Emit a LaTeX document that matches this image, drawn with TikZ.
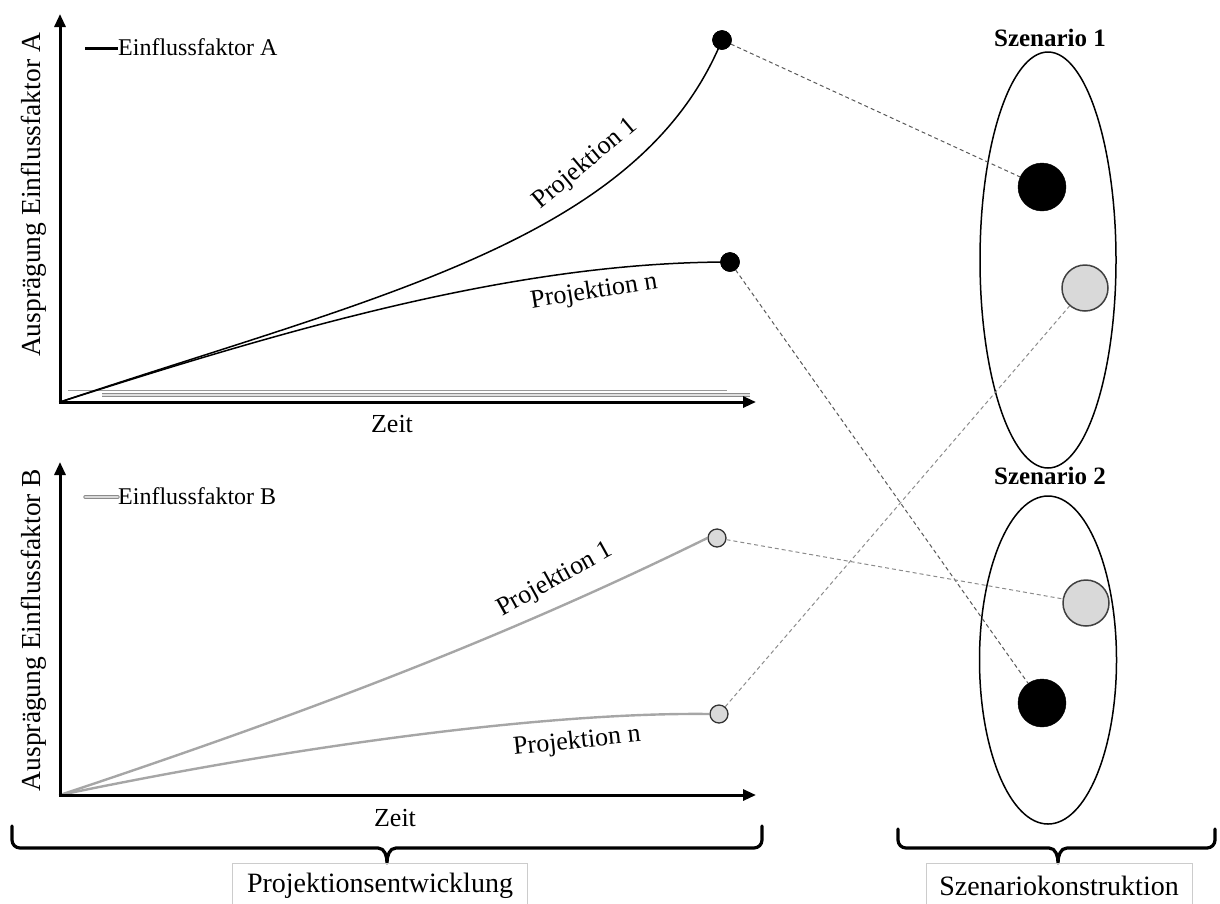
\documentclass[tikz,border=0pt]{standalone}
\usepackage{fontspec}
\setmainfont{Liberation Serif}
\usetikzlibrary{arrows.meta,shapes.geometric}
\tikzset{
  axisline/.style={line width=3pt,-{Triangle[length=13pt,width=11pt]}},
  curveA/.style={line width=1.5pt,black},
  curveB/.style={line width=2.4pt,draw=black!35},
  lbl/.style={font={\fontsize{26}{30}\selectfont},inner sep=0pt},
  leglbl/.style={font={\fontsize{24}{30}\selectfont},inner sep=0pt},
  boxlbl/.style={font={\fontsize{28}{30}\selectfont},inner sep=0pt},
  axlbl/.style={font={\fontsize{27.5}{30}\selectfont},inner sep=0pt,rotate=90},
  sztitle/.style={font={\fontsize{25}{30}\selectfont\bfseries},inner sep=0pt},
  dotA/.style={circle,fill=black,draw=black,minimum size=19pt,inner sep=0pt},
  dotB/.style={circle,fill=black!15,draw=black!80,line width=1.3pt,minimum size=18pt,inner sep=0pt},
  bigA/.style={circle,fill=black,draw=black,minimum size=48pt,inner sep=0pt},
  bigB/.style={circle,fill=black!15,draw=black!75,line width=1.5pt,minimum size=46pt,inner sep=0pt},
  scen/.style={ellipse,draw=black,line width=1.5pt,inner sep=0pt},
  conA/.style={dashed,dash pattern=on 4pt off 3pt,line width=1pt,draw=black!65},
  conB/.style={dashed,dash pattern=on 4pt off 3pt,line width=1pt,draw=black!45},
  bracestyle/.style={line width=3.2pt,line cap=round,line join=round},
  labelbox/.style={draw=black!20,line width=1pt}
}
\begin{document}
\begin{tikzpicture}[x=1pt,y=-1pt]
\useasboundingbox (0,0) rectangle (1220,903);

% ---------- top chart ----------
\coordinate (oA) at (60,402);
\coordinate (yA) at (60,14);
\coordinate (xA) at (756,402);
\draw[draw=black!40,line width=1pt] (68,390) -- (727,390);
\draw[draw=black!45,line width=3.6pt] (102,395) -- (750,395);
\draw[draw=black!12,line width=1.6pt] (102,395) -- (750,395);
\draw[axisline] ([yshift=-1.5pt]oA) -- (yA);
\draw[axisline] ([xshift=-1.5pt]oA) -- (xA);
\node[lbl] (zeitA) at (392,424) {Zeit};
\node[axlbl] (ylA) at (34,195) {Ausprägung Einflussfaktor A};
\coordinate (legA1) at (85,48);
\coordinate (legA2) at (118,48);
\draw[line width=3pt] (legA1) -- (legA2);
\node[leglbl,anchor=west] (legAt) at (118,47) {Einflussfaktor A};

\node[dotA] (pA1) at (722,40) {};
\node[dotA] (pAn) at (730,262) {};
\draw[curveA] (oA) .. controls (380,295) and (640,240) .. (pA1.center);
\draw[curveA] (oA) .. controls (300,325) and (520,262) .. (pAn.center);
\node[dotA] at (722,40) {};
\node[dotA] at (730,262) {};
\node[lbl,rotate=40] (tA1) at (585,164) {Projektion 1};
\node[lbl,rotate=9] (tAn) at (594,292) {Projektion n};

% ---------- bottom chart ----------
\coordinate (oB) at (60,795);
\coordinate (yB) at (60,462);
\coordinate (xB) at (756,795);
\node[dotB] (pB1) at (717,538) {};
\node[dotB] (pBn) at (719,714) {};
\draw[curveB] (oB) .. controls (300,715) and (500,640) .. (pB1.west);
\draw[curveB] (oB) .. controls (300,745) and (550,712) .. (pBn.west);
\draw[axisline] ([yshift=-1.5pt]oB) -- (yB);
\draw[axisline] ([xshift=-1.5pt]oB) -- (xB);
\node[lbl] (zeitB) at (395,818) {Zeit};
\node[axlbl] (ylB) at (34,630) {Ausprägung Einflussfaktor B};
\coordinate (legB1) at (85,497);
\coordinate (legB2) at (118,497);
\draw[draw=black!45,line width=3.4pt,line cap=round] (legB1) -- (legB2);
\draw[draw=black!15,line width=1.4pt,line cap=round] (legB1) -- (legB2);
\node[leglbl,anchor=west] (legBt) at (118,496) {Einflussfaktor B};
\node[lbl,rotate=29] (tB1) at (555,580) {Projektion 1};
\node[lbl,rotate=6] (tBn) at (577,742) {Projektion n};

% ---------- scenarios ----------
\node[scen,minimum width=136pt,minimum height=416pt] (s1) at (1048,260) {};
\node[scen,minimum width=137pt,minimum height=328pt] (s2) at (1048,660) {};
\node[sztitle] (s1t) at (1050,38) {Szenario 1};
\node[sztitle] (s2t) at (1050,476) {Szenario 2};
\node[bigA] (s1a) at (1042,187) {};
\node[bigB] (s1b) at (1085,288) {};
\node[bigB] (s2b) at (1086,603) {};
\node[bigA] (s2a) at (1042,703) {};

% ---------- connectors ----------
\draw[conA] (pA1) -- (s1a);
\draw[conA] (pAn) -- (s2a);
\draw[conB] (pB1) -- (s2b);
\draw[conB] (pBn) -- (s1b);

% ---------- braces ----------
\coordinate (bL1) at (12,826);
\coordinate (bL2) at (762,826);
\coordinate (bLt) at (387,863);
\draw[bracestyle] (bL1) -- (12,840) to[out=-90,in=180] (20,848) -- (378,848)
   to[out=0,in=90] (bLt) to[out=90,in=180] (396,848) -- (754,848)
   to[out=0,in=-90] (762,840) -- (bL2);
\coordinate (bR1) at (898,829);
\coordinate (bR2) at (1215,829);
\coordinate (bRt) at (1058,863);
\draw[bracestyle] (bR1) -- (898,840) to[out=-90,in=180] (906,848) -- (1049,848)
   to[out=0,in=90] (bRt) to[out=90,in=180] (1067,848) -- (1207,848)
   to[out=0,in=-90] (1215,840) -- (bR2);

\node[boxlbl] (pe) at (380,886) {Projektionsentwicklung};
\node[boxlbl] (sk) at (1059,886) {Szenariokonstruktion};
\draw[labelbox] (232,910) -- (232,863) -- (527,863) -- (527,910);
\draw[labelbox] (926,910) -- (926,863) -- (1192,863) -- (1192,910);
\end{tikzpicture}
\end{document}
